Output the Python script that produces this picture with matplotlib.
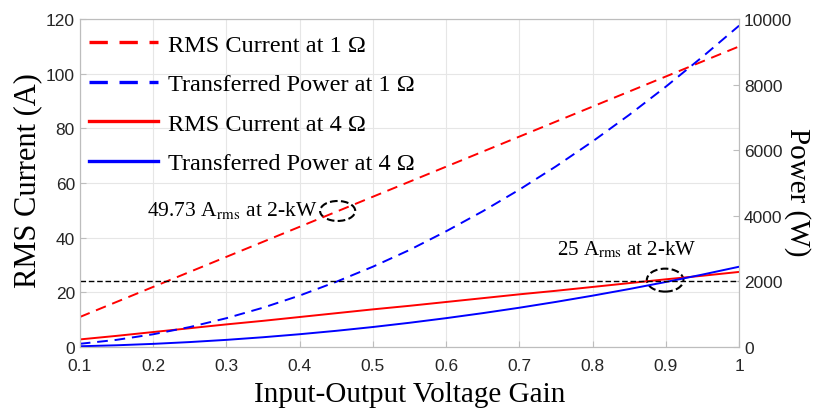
import numpy as np
import matplotlib
matplotlib.use('Agg')
import matplotlib.pyplot as plt
from matplotlib.patches import Ellipse

plt.rcParams['mathtext.fontset'] = 'stix'

# voltage gain sweep
gain = [0.10, 0.15, 0.20, 0.25, 0.30, 0.35, 0.40, 0.45, 0.50, 0.55,
        0.60, 0.65, 0.70, 0.75, 0.80, 0.85, 0.90, 0.95, 1.00]

# RMS current (A)
i_rms_1ohm = [11, 16.5, 22, 27.5, 33, 38.5, 44, 49.5, 55, 60.5,
              66, 71.5, 77, 82.5, 88, 93.5, 99, 104.5, 110]
i_rms_4ohm = [2.8, 4.1, 5.5, 6.9, 8.3, 9.6, 11, 12.4, 13.8, 15.1,
              16.5, 17.9, 19.3, 20.6, 22, 23.4, 24.8, 26.1, 27.5]

# transferred power (W)
p_1ohm = [100, 220, 390, 610, 880, 1200, 1570, 1990, 2450, 2960,
          3530, 4140, 4800, 5510, 6270, 7080, 7940, 8850, 9800]
p_4ohm = [25, 55, 98, 153, 220, 300, 392, 496, 612, 741,
          882, 1035, 1200, 1378, 1568, 1770, 1985, 2211, 2450]

xticks = [0.1, 0.2, 0.3, 0.4, 0.5, 0.6, 0.7, 0.8, 0.9, 1]
xtick_labels = ['0.1', '0.2', '0.3', '0.4', '0.5', '0.6', '0.7', '0.8', '0.9', '1']

serif = 'Liberation Serif'
sans = 'Liberation Sans'
tick_col = '#262626'

fig = plt.figure(figsize=(8.14, 4.10), dpi=100)
ax = fig.add_axes([0.098, 0.151, 0.81, 0.80])
ax2 = ax.twinx()

l1, = ax.plot(gain, i_rms_1ohm, color='red', ls='--', dashes=(5.5, 3.5), lw=1.4)
l3, = ax.plot(gain, i_rms_4ohm, color='red', lw=1.4)
l2, = ax2.plot(gain, p_1ohm, color='blue', ls='--', dashes=(5.5, 3.5), lw=1.4)
l4, = ax2.plot(gain, p_4ohm, color='blue', lw=1.4)
ax2.axhline(2000, color='black', ls='--', dashes=(4, 2), lw=1.0)

ax.set_xlim(0.1, 1)
ax.set_ylim(0, 120)
ax2.set_ylim(0, 10000)
ax.set_xticks(xticks)
ax.set_xticklabels(xtick_labels)
ax.set_yticks(np.arange(0, 121, 20))
ax2.set_yticks(np.arange(0, 10001, 2000))

ax.grid(True, color='#e6e6e6', lw=0.8)
ax.set_axisbelow(True)
for a in (ax, ax2):
    for s in a.spines.values():
        s.set_color('#bdbdbd')
    a.tick_params(direction='in', length=4, color='#bdbdbd', labelcolor=tick_col, labelsize=12.5)
    for lab in a.get_xticklabels() + a.get_yticklabels():
        lab.set_fontfamily(sans)
ax.tick_params(axis='x', pad=8)

ax.set_xlabel('Input-Output Voltage Gain', fontfamily=serif, fontsize=21, va='baseline')
ax.xaxis.set_label_coords(0.5, -0.165)
ax.set_ylabel('RMS Current (A)', fontfamily=serif, fontsize=22, va='center')
ax.yaxis.set_label_coords(-0.079, 0.512)
ax2.set_ylabel('Power (W)', fontfamily=serif, fontsize=21, rotation=-90, va='center', ha='center')
ax2.yaxis.set_label_coords(1.088, 0.476)

# annotations for the 2 kW operating points
ax.add_patch(Ellipse((0.452, 49.8), 0.048, 7.3, fill=False, ls='--', lw=1.5, color='black'))
ax.add_patch(Ellipse((0.899, 24.5), 0.05, 8.4, fill=False, ls='--', lw=1.5, color='black'))
ax.text(0.425, 50.5, r'49.73 A$_{\rm rms}$ at 2-kW', fontfamily=serif, fontsize=15.5,
        ha='right', va='center')
ax.text(0.846, 36, r'25 A$_{\rm rms}$ at 2-kW', fontfamily=serif, fontsize=15,
        ha='center', va='center')

leg = ax.legend([l1, l2, l3, l4],
                ['RMS Current at 1 Ω', 'Transferred Power at 1 Ω',
                 'RMS Current at 4 Ω', 'Transferred Power at 4 Ω'],
                loc='upper left', bbox_to_anchor=(-0.008, 1.0),
                frameon=False, prop={'family': serif, 'size': 17.5},
                handlelength=2.85, handletextpad=0.4, labelspacing=0.72,
                borderaxespad=0.3, borderpad=0.3)
for h in leg.get_lines():
    h.set_linewidth(2.4)

fig.savefig('out.png', dpi=100)
